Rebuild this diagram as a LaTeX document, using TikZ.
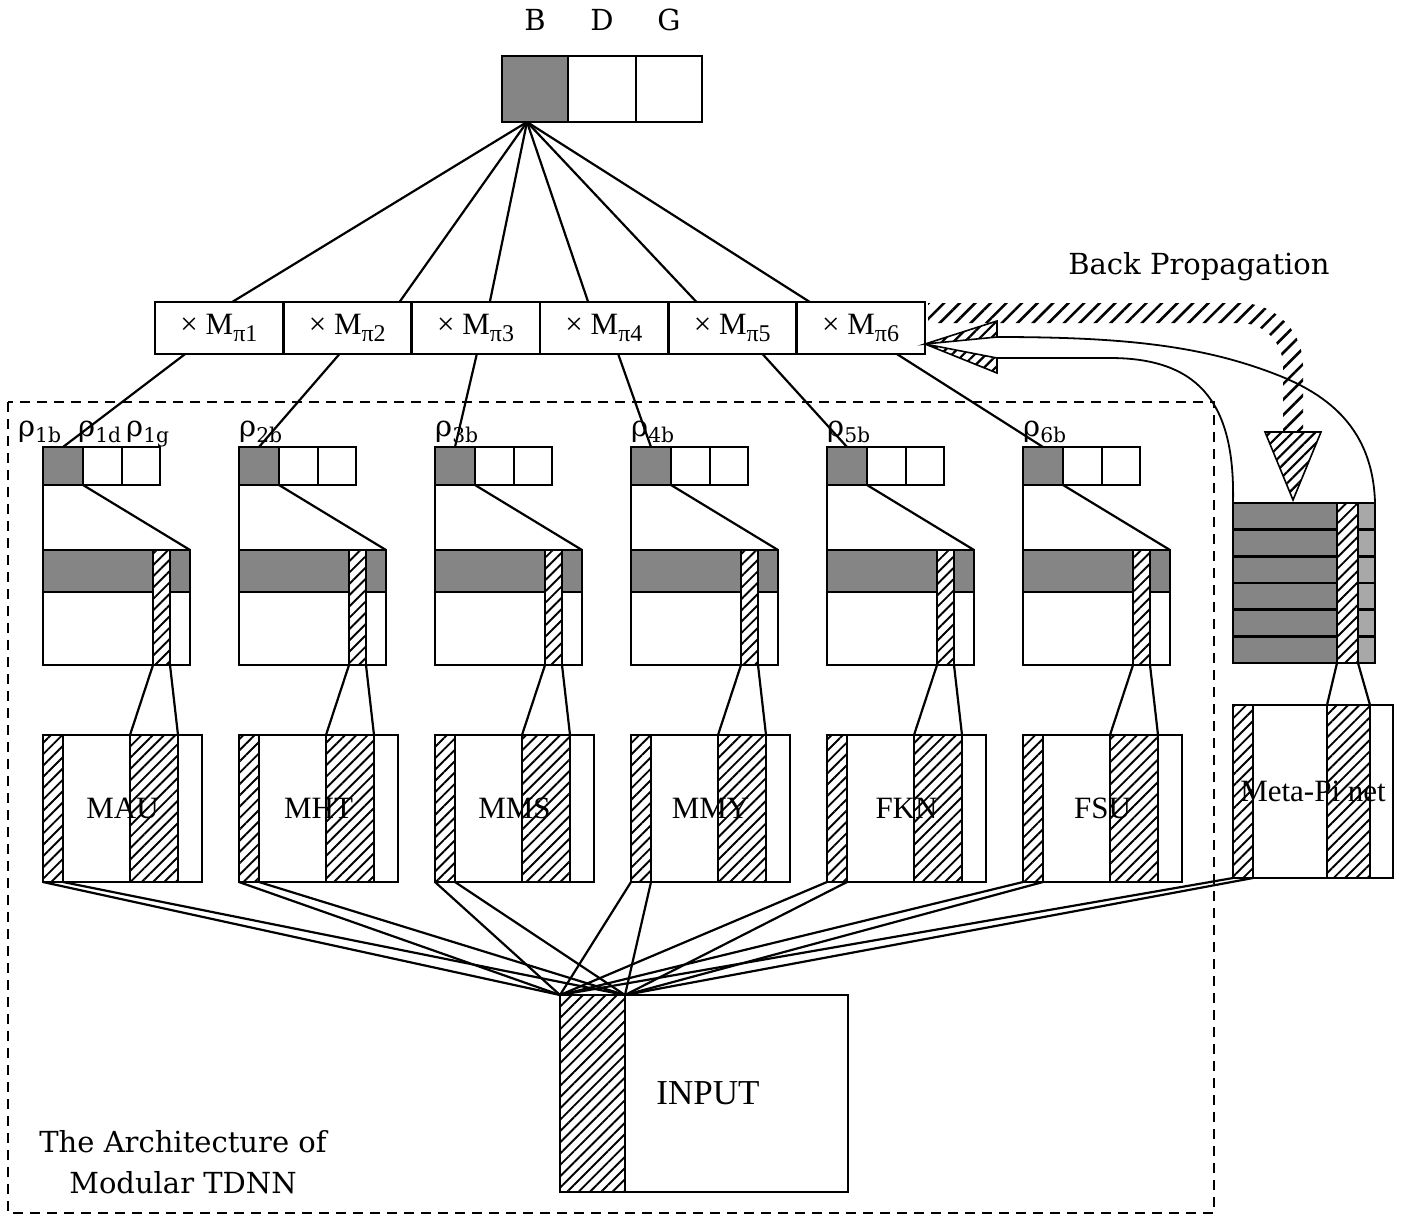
\documentclass[tikz,border=0pt]{standalone}
\usepackage{fontspec}
\setmainfont{Liberation Serif}
\newfontfamily\tagfont{DejaVu Serif}
\usetikzlibrary{patterns.meta,positioning}

\begin{document}
\begin{tikzpicture}[
  x=1pt, y=-1pt,
  cell/.style={draw, line width=2.6pt, inner sep=0pt, outer sep=0pt, anchor=north west},
  stipple/.style={fill=black!48},
  lightstipple/.style={fill=black!34},
  hatch/.style={preaction={fill=white}, pattern={Lines[angle=45,distance=8pt,line width=1.9pt]}},
  link/.style={line width=2.2pt},
  backline/.style={line width=1.8pt},
  arrowtip/.style={line width=1.6pt, pattern={Lines[angle=45,distance=8pt,line width=2.2pt]}},
  bandhatch/.style={pattern={Lines[angle=45,distance=11pt,line width=2.6pt]}},
  tagtext/.style={inner sep=0pt, font=\tagfont\fontsize{29}{41}\selectfont},
  multext/.style={font=\fontsize{31}{34}\selectfont},
  modtext/.style={font=\fontsize{31}{34}\selectfont},
  modframe/.style={line width=2.8pt, dash pattern=on 10pt off 7pt}
]
\useasboundingbox (0,0) rectangle (1404,1216);

% output units B D G
\node[cell, stipple, minimum width=66pt, minimum height=66pt] (outB) at (502,56) {};
\node[cell, minimum width=68pt, minimum height=66pt] (outD) at (568,56) {};
\node[cell, minimum width=66pt, minimum height=66pt] (outG) at (636,56) {};
\node[tagtext, above=25pt of outB] (tagB) {B};
\node[tagtext, above=25pt of outD] (tagD) {D};
\node[tagtext, above=25pt of outG] (tagG) {G};

% multiplier row
\foreach \i in {1,...,6}
  \node[cell, multext, minimum width=128.33pt, minimum height=52pt] (mul\i) at ({155+(\i-1)*128.33},302) {× M\textsubscript{\fontsize{24}{24}\selectfont π\i}};

\foreach \i/\dx in {1/13,2/52,3/14,4/-16,5/-36,6/-51}
  \draw[link] ([xshift=-8pt]outB.south) -- ([xshift=\dx pt]mul\i.north);

% modules
\foreach \i/\mname/\dx in {1/MAU/-34,2/MHT/-8,3/MMS/1,4/MMY/14,5/FKN/30,6/FSU/36} {
  \pgfmathsetmacro{\cx}{43+196*(\i-1)}
  \node[cell, stipple, minimum width=40pt, minimum height=38pt] (rhoB\i) at (\cx,447) {};
  \node[cell, minimum width=39pt, minimum height=38pt] (rhoD\i) at (\cx+40,447) {};
  \node[cell, minimum width=38pt, minimum height=38pt] (rhoG\i) at (\cx+79,447) {};
  \draw[link] ([xshift=\dx pt]mul\i.south) -- (rhoB\i.north);

  \node[cell, minimum width=147pt, minimum height=115pt] (hid\i) at (\cx,550) {};
  \node[cell, stipple, minimum width=147pt, minimum height=42pt] (hidtop\i) at (\cx,550) {};
  \node[cell, hatch, minimum width=17pt, minimum height=115pt] (hidcol\i) at (\cx+110,550) {};
  \draw[link] (rhoB\i.south west) -- (hid\i.north west);
  \draw[link] (rhoB\i.south east) -- (hid\i.north east);

  \node[cell, minimum width=159pt, minimum height=147pt] (mod\i) at (\cx,735) {};
  \node[cell, hatch, minimum width=20pt, minimum height=147pt] (modin\i) at (\cx,735) {};
  \node[cell, hatch, minimum width=48pt, minimum height=147pt] (modcol\i) at (\cx+87,735) {};
  \node[modtext] (modlbl\i) at (mod\i.center) {\mname};
  \draw[link] (hidcol\i.south west) -- (modcol\i.north west);
  \draw[link] (hidcol\i.south east) -- (modcol\i.north east);
}

% weight labels
\node[tagtext, anchor=base west] (rho1b) at (18,436) {ρ\textsubscript{1b}};
\node[tagtext, anchor=base west] (rho1d) at (78,436) {ρ\textsubscript{1d}};
\node[tagtext, anchor=base west] (rho1g) at (126,436) {ρ\textsubscript{1g}};
\foreach \i in {2,...,6}
  \node[tagtext, anchor=base west] (rho\i b) at ({43+196*(\i-1)},436) {ρ\textsubscript{\i b}};

% meta-pi net
\foreach \r in {0,...,5} {
  \node[cell, stipple, minimum width=104pt, minimum height=26.67pt] (metarow\r) at (1233,{503+\r*26.67}) {};
  \node[cell, lightstipple, minimum width=17pt, minimum height=26.67pt] (metaend\r) at (1358,{503+\r*26.67}) {};
}
\node[cell, hatch, minimum width=21pt, minimum height=160pt] (metacol) at (1337,503) {};
\node[cell, minimum width=142pt, minimum height=160pt] (metahid) at (1233,503) {};

\node[cell, minimum width=160pt, minimum height=173pt] (metamod) at (1233,705) {};
\node[cell, hatch, minimum width=20pt, minimum height=173pt] (metain) at (1233,705) {};
\node[cell, hatch, minimum width=43pt, minimum height=173pt] (metamcol) at (1327,705) {};
\node[modtext] (metalbl) at (metamod.center) {Meta-Pi net};
\draw[link] (metacol.south west) -- (metamcol.north west);
\draw[link] (metacol.south east) -- (metamcol.north east);

% input
\node[cell, minimum width=288pt, minimum height=197pt] (inp) at (560,995) {};
\node[cell, hatch, minimum width=65pt, minimum height=197pt] (inpcol) at (560,995) {};
\node[font=\fontsize{35}{38}\selectfont] (inplbl) at ([xshift=4pt]inp.center) {INPUT};

\foreach \m in {modin1,modin2,modin3,modin4,modin5,modin6,metain} {
  \draw[link] (\m.south west) -- (inpcol.north west);
  \draw[link] (\m.south east) -- (inpcol.north east);
}

% back propagation
\coordinate (tip) at ([yshift=-16pt]mul6.east);
\coordinate (upbase) at (997,337);
\coordinate (lowbase) at (997,358);
\draw[backline] (metahid.north east) .. controls (1373,430) and (1330,395) .. (1275,374)
  .. controls (1200,345) and (1120,337) .. (upbase);
\draw[backline] (metahid.north west) .. controls (1235,410) and (1205,358) .. (1110,358) -- (lowbase);
\draw[arrowtip] (tip) -- (997,321) -- (upbase) -- cycle;
\draw[arrowtip] (tip) -- (997,373) -- (lowbase) -- cycle;

\path[bandhatch] (928,303) -- (1240,303) .. controls (1275,303) and (1303,331) .. (1303,366)
  -- (1303,432) -- (1283,432) -- (1283,366) .. controls (1283,342) and (1264,323) .. (1240,323)
  -- (928,323) -- cycle;
\draw[arrowtip] (1265,432) -- (1321,432) -- (1293,500) -- cycle;

\node[tagtext] (bplbl) at (1199,267) {Back Propagation};

% frame
\draw[modframe] (8,402) rectangle (1214,1213);
\node[tagtext, align=center] (caption) at (183,1162) {The Architecture of\\Modular TDNN};
\end{tikzpicture}
\end{document}
